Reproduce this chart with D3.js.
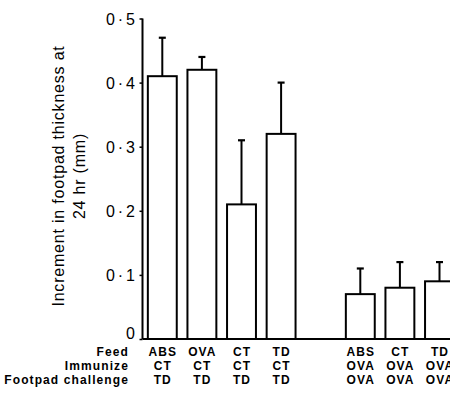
<!DOCTYPE html>
<html>
<head>
<meta charset="utf-8">
<script src="https://cdn.jsdelivr.net/npm/d3@7"></script>
<style>
  body { margin: 0; background: #fff; }
  svg { display: block; }
  .tick text { font-family: "Liberation Sans", Arial, sans-serif; }
</style>
</head>
<body>
<svg id="chart" width="450" height="401"></svg>
<script>
// groups of the experiment, "gap" is the empty slot between the two groups
var feed      = ["ABS", "OVA", "CT", "TD", "ABS", "CT", "TD"];
var immunize  = ["CT", "CT", "CT", "CT", "OVA", "OVA", "OVA"];
var challenge = ["TD", "TD", "TD", "TD", "OVA", "OVA", "OVA"];
var slots     = ["g1", "g2", "g3", "g4", "gap", "g5", "g6", "g7"];
// increment in footpad thickness (mm) and the error bar length
var means  = [0.41, 0.42, 0.21, 0.32, 0.07, 0.08, 0.09];
var errors = [0.06, 0.02, 0.10, 0.08, 0.04, 0.04, 0.03];
var yTicks = [0, 0.1, 0.2, 0.3, 0.4, 0.5];
var rowNames = ["Feed", "Immunize", "Footpad challenge"];

var svg = d3.select("#chart");
var barSlots = slots.filter(function(s) { return s !== "gap"; });
var data = barSlots.map(function(s, i) {
  return { slot: s, mean: means[i], err: errors[i], rows: [feed[i], immunize[i], challenge[i]] };
});

var x = d3.scaleBand()
  .domain(slots)
  .range([142.5, 142.5 + 8 * 39.6])
  .paddingInner(0.27)
  .paddingOuter(0.135);
var y = d3.scaleLinear().domain([0, 0.5]).range([339, 18.5]);

// bars
svg.selectAll("rect.bar")
  .data(data)
  .enter().append("rect")
  .attr("class", "bar")
  .attr("x", function(d) { return x(d.slot); })
  .attr("y", function(d) { return y(d.mean); })
  .attr("width", x.bandwidth())
  .attr("height", function(d) { return y(0) - y(d.mean); })
  .attr("fill", "#fff")
  .attr("stroke", "#000")
  .attr("stroke-width", 2);

// error bars
var eb = svg.selectAll("g.err").data(data).enter().append("g").attr("class", "err");
eb.append("line")
  .attr("x1", function(d) { return x(d.slot) + x.bandwidth() / 2; })
  .attr("x2", function(d) { return x(d.slot) + x.bandwidth() / 2; })
  .attr("y1", function(d) { return y(d.mean); })
  .attr("y2", function(d) { return y(d.mean + d.err); })
  .attr("stroke", "#000").attr("stroke-width", 2);
eb.append("line")
  .attr("x1", function(d) { return x(d.slot) + x.bandwidth() / 2 - 3.5; })
  .attr("x2", function(d) { return x(d.slot) + x.bandwidth() / 2 + 3.5; })
  .attr("y1", function(d) { return y(d.mean + d.err); })
  .attr("y2", function(d) { return y(d.mean + d.err); })
  .attr("stroke", "#000").attr("stroke-width", 2.2);

// baseline runs off the right edge
svg.append("line")
  .attr("x1", 142.5).attr("x2", 450)
  .attr("y1", y(0)).attr("y2", y(0))
  .attr("stroke", "#000").attr("stroke-width", 2);

// y axis
var yAxis = d3.axisLeft(y)
  .tickValues(yTicks)
  .tickSize(3)
  .tickPadding(1.5)
  .tickFormat(function(d) { return d === 0 ? "0" : d3.format(".1f")(d).replace(".", "\u00b7"); });
var ag = svg.append("g").attr("transform", "translate(142.5,0)").call(yAxis);
ag.select(".domain").attr("stroke-width", 2).attr("d", "M0," + y(0.5) + "V" + y(0));
ag.selectAll(".tick line").attr("stroke-width", 1.5);
ag.selectAll(".tick text")
  .attr("font-size", 16)
  .attr("letter-spacing", 3)
  .attr("fill", "#000")
  .attr("dy", function(d) { return d === 0 ? "-0.02em" : "0.35em"; });

// y title
var yt = svg.append("text")
  .attr("transform", "translate(0,176) rotate(-90)")
  .attr("text-anchor", "middle")
  .attr("font-family", "Liberation Sans, Arial, sans-serif")
  .attr("font-size", 16)
  .attr("letter-spacing", 0.8)
  .attr("fill", "#000");
yt.append("tspan").attr("x", 0).attr("y", 63.5).text("Increment in footpad thickness at");
yt.append("tspan").attr("x", 0).attr("y", 84.5).text("24 hr (mm)");

// table under the bars
var rowY = [352, 366, 380];
var tf = "Liberation Sans, Arial, sans-serif";
svg.selectAll("text.rowname")
  .data(rowNames)
  .enter().append("text")
  .attr("class", "rowname")
  .attr("x", 129)
  .attr("y", function(d, i) { return rowY[i]; })
  .attr("dy", "0.35em")
  .attr("text-anchor", "end")
  .attr("font-family", tf)
  .attr("font-weight", "bold")
  .attr("font-size", 12)
  .attr("letter-spacing", 1.1)
  .text(function(d) { return d; });

data.forEach(function(d) {
  d.rows.forEach(function(v, r) {
    svg.append("text")
      .attr("x", x(d.slot) + x.bandwidth() / 2 + 0.5)
      .attr("y", rowY[r])
      .attr("dy", "0.35em")
      .attr("text-anchor", "middle")
      .attr("font-family", tf)
      .attr("font-weight", "bold")
      .attr("font-size", 12)
      .attr("letter-spacing", 1.1)
      .text(v);
  });
});
</script>
</body>
</html>
